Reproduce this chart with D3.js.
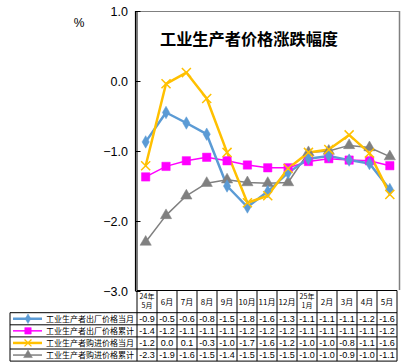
<!DOCTYPE html>
<html><head><meta charset="utf-8">
<script src="https://cdn.jsdelivr.net/npm/d3@7"></script>
<style>body{margin:0;background:#fff}svg{display:block;font-family:"Liberation Sans",Arial,"Noto Sans CJK SC",sans-serif}</style>
</head><body><svg id="c" width="402" height="364"></svg>
<script>
const months = ["24年|5月","6月","7月","8月","9月","10月","11月","12月","25年|1月","2月","3月","4月","5月"];
const seriesNames = ["工业生产者出厂价格当月","工业生产者出厂价格累计","工业生产者购进价格当月","工业生产者购进价格累计"];
// plotted values
const ppiMonth   = [-0.87,-0.45,-0.60,-0.76,-1.50,-1.80,-1.58,-1.31,-1.11,-1.07,-1.13,-1.18,-1.55];
const ppiCum     = [-1.37,-1.22,-1.14,-1.09,-1.14,-1.20,-1.24,-1.24,-1.15,-1.11,-1.13,-1.14,-1.21];
const ppirmMonth = [-1.21,-0.04,0.12,-0.25,-1.02,-1.74,-1.64,-1.25,-1.02,-0.98,-0.77,-1.03,-1.62];
const ppirmCum   = [-2.30,-1.92,-1.64,-1.46,-1.41,-1.45,-1.46,-1.45,-1.02,-1.00,-0.92,-0.95,-1.08];
// values printed in the table
const tPpiMonth   = ["-0.9","-0.5","-0.6","-0.8","-1.5","-1.8","-1.6","-1.3","-1.1","-1.1","-1.1","-1.2","-1.6"];
const tPpiCum     = ["-1.4","-1.2","-1.1","-1.1","-1.1","-1.2","-1.2","-1.2","-1.1","-1.1","-1.1","-1.1","-1.2"];
const tPpirmMonth = ["-1.2","0.0","0.1","-0.3","-1.0","-1.7","-1.6","-1.2","-1.0","-1.0","-0.8","-1.1","-1.6"];
const tPpirmCum   = ["-2.3","-1.9","-1.6","-1.5","-1.4","-1.5","-1.5","-1.5","-1.0","-1.0","-0.9","-1.0","-1.1"];
const yTicks = [1.0,0.0,-1.0,-2.0,-3.0];

const svg = d3.select("#c");
const x = d3.scaleBand().domain(d3.range(months.length)).range([135.5,400]);
const tx = d3.scaleBand().domain(d3.range(months.length)).range([137,397]);
const y = d3.scaleLinear().domain([-3,1]).range([291,11]);

const series = [
 {vals:ppiMonth, tab:tPpiMonth, color:"#5B9BD5", w:2.5, sym:d3.symbolDiamond, size:45, fill:true},
 {vals:ppiCum, tab:tPpiCum, color:"#FF00FF", w:1.5, sym:d3.symbolSquare, size:70, fill:true},
 {vals:ppirmMonth, tab:tPpirmMonth, color:"#FFC000", w:2.5, sym:d3.symbolX, size:55, fill:false},
 {vals:ppirmCum, tab:tPpirmCum, color:"#808080", w:1.5, sym:d3.symbolTriangle, size:55, fill:true}
];

// frame
svg.append("line").attr("x1",135).attr("x2",400).attr("y1",11.5).attr("y2",11.5).attr("stroke","#808080").attr("stroke-width",1.2);
svg.append("line").attr("x1",399.5).attr("x2",399.5).attr("y1",11).attr("y2",290).attr("stroke","#808080").attr("stroke-width",1.5);

// y axis
const yAxis = d3.axisRight(y).tickValues(yTicks).tickSize(5).tickFormat("");
const ga = svg.append("g").attr("transform","translate(135.5,0)").call(yAxis);
ga.select(".domain").attr("d","M0,11V291").attr("stroke","#000").attr("stroke-width",1.2);
ga.selectAll(".tick line").attr("stroke","#000");
svg.selectAll(".ylab").data(yTicks).enter().append("text")
  .attr("x",128).attr("y",d=>y(d)).attr("dy","0.36em").attr("text-anchor","end")
  .attr("font-size",12.5).attr("fill","#000").text(d=>d3.format(".1f")(d));
svg.append("text").attr("x",79).attr("y",27).attr("text-anchor","middle").attr("font-size",12).text("%");

// title
svg.append("text").attr("x",160).attr("y",45).attr("font-size",16.2).attr("font-weight","bold")
  .attr("font-family","'Noto Sans CJK SC',sans-serif").text("工业生产者价格涨跌幅度");

// lines
const order=[3,1,0,2];
order.forEach(i=>{
  const s=series[i];
  const line=d3.line().x((d,j)=>x(j)+x.bandwidth()/2).y(d=>y(d));
  svg.append("path").datum(s.vals).attr("d",line).attr("fill","none").attr("stroke",s.color).attr("stroke-width",s.w).attr("stroke-linejoin","round");
});
order.forEach(i=>{
  const s=series[i];
  svg.append("g").selectAll("path").data(s.vals).enter().append("path")
    .attr("transform",(d,j)=>`translate(${x(j)+x.bandwidth()/2},${y(d)})`)
    .attr("d",d3.symbol().type(s.sym).size(s.size))
    .attr("fill",s.fill?s.color:"none").attr("stroke",s.color).attr("stroke-width",s.fill?0.5:1.5);
});

// table
const hTop=290.5, hBot=312.7, rowH=12.1;
const tb=svg.append("g").attr("stroke","#000").attr("stroke-width",1);
tb.append("line").attr("x1",137).attr("x2",397).attr("y1",hTop).attr("y2",hTop);
const colEdges=months.map((m,i)=>tx(i)).concat([397]);
colEdges.forEach(e=>tb.append("line").attr("x1",e).attr("x2",e).attr("y1",hTop).attr("y2",hBot+rowH*4));
tb.append("line").attr("x1",137).attr("x2",137).attr("y1",11).attr("y2",hTop);
for(let r=0;r<=4;r++){
  tb.append("line").attr("x1",10).attr("x2",397).attr("y1",hBot+r*rowH).attr("y2",hBot+r*rowH);
}
tb.append("line").attr("x1",10).attr("x2",10).attr("y1",hBot).attr("y2",hBot+4*rowH);

months.forEach((m,i)=>{
  const parts=m.split("|"); const cx=tx(i)+tx.bandwidth()/2;
  const mk=(yy,txt,fs)=>svg.append("text").attr("x",cx).attr("y",yy).attr("text-anchor","middle").attr("font-size",fs)
      .attr("font-family","'Noto Sans CJK SC',sans-serif").text(txt);
  if(parts.length===2){
    mk(298.5,parts[0],7);
    mk(308,parts[1],7);
  } else mk(304.5,m,8);
});
series.forEach((s,r)=>{
  const cy=hBot+r*rowH+rowH/2;
  svg.append("line").attr("x1",13).attr("x2",42).attr("y1",cy).attr("y2",cy).attr("stroke",s.color).attr("stroke-width",s.w);
  svg.append("path").attr("transform",`translate(28,${cy})`).attr("d",d3.symbol().type(s.sym).size(s.size*0.6))
    .attr("fill",s.fill?s.color:"none").attr("stroke",s.color).attr("stroke-width",s.fill?0.5:1.3);
  svg.append("text").attr("x",46).attr("y",cy).attr("dy","0.35em").attr("font-size",8)
    .attr("font-family","'Noto Sans CJK SC',sans-serif").text(seriesNames[r]);
  s.tab.forEach((v,i)=>{
    svg.append("text").attr("x",tx(i)+tx.bandwidth()/2).attr("y",cy).attr("dy","0.36em")
      .attr("text-anchor","middle").attr("font-size",9).text(v);
  });
});
</script></body></html>
